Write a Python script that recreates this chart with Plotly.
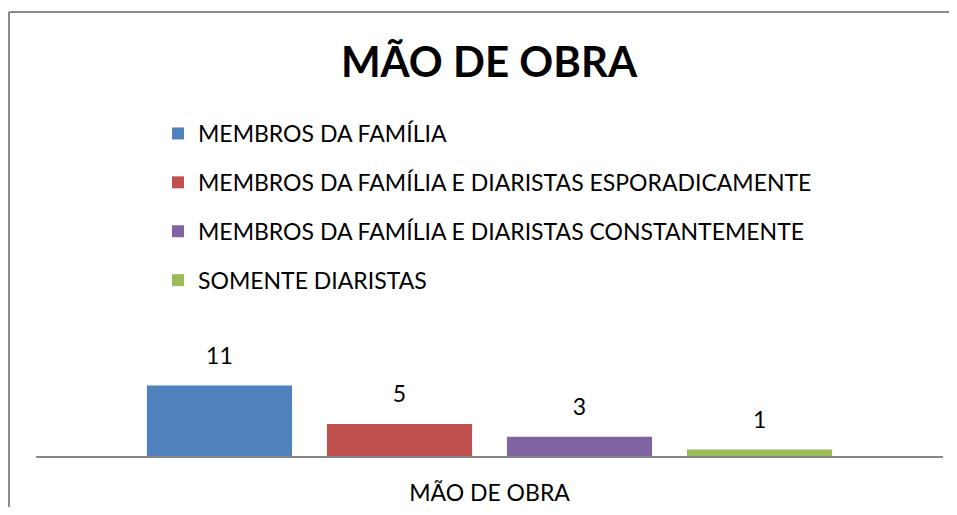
import plotly.graph_objects as go

categories = ["MÃO DE OBRA"]
series_names = [
    "MEMBROS DA FAMÍLIA",
    "MEMBROS DA FAMÍLIA E DIARISTAS ESPORADICAMENTE",
    "MEMBROS DA FAMÍLIA E DIARISTAS CONSTANTEMENTE",
    "SOMENTE DIARISTAS",
]
series_values = [11, 5, 3, 1]
series_colors = ["#4F81BD", "#C0504D", "#8064A2", "#9BBB59"]

FONT = "Lato"
# page body has an 8px margin on every side; keep the page inside the window
W, H = 941, 499
ML, MR, MT, MB = 28, 6, 371, 51

fig = go.Figure()
for i, (name, val, col) in enumerate(zip(series_names, series_values, series_colors)):
    fig.add_trace(go.Bar(
        x=categories, y=[val], name=name, legendgroup=f"g{i}",
        marker=dict(color=col, line=dict(width=0)),
        texttemplate="<span style='font-size:23px'>%{y}</span><br><span style='color:rgba(0,0,0,0)'>.</span>",
        textposition="outside", cliponaxis=False, constraintext="none",
        textfont=dict(family=FONT, size=12, color="#000000"),
    ))

pw = W - ML - MR
ph = H - MT - MB
def px_x(x):
    return (x - ML) / pw
def px_y(y):
    return (H - MB - y) / ph

border = dict(color="#898989", width=2)
fig.update_layout(
    width=W, height=H,
    margin=dict(l=ML, r=MR, t=MT, b=MB, autoexpand=False),
    paper_bgcolor="white", plot_bgcolor="white",
    barmode="group", bargap=0.206, bargroupgap=0.194,
    title=dict(text="<b>MÃO DE OBRA</b>", x=481 / W, xanchor="center",
               y=1 - 54 / H, yanchor="middle", yref="container",
               font=dict(family=FONT, size=42, color="#000000")),
    legend=dict(x=150 / W, xref="container", xanchor="left",
                y=1 - 104 / H, yref="container", yanchor="top",
                font=dict(family=FONT, size=23, color="#000000"),
                tracegroupgap=16, traceorder="grouped",
                bgcolor="rgba(0,0,0,0)"),
    xaxis=dict(type="category", showline=True, linecolor="#868686", linewidth=2,
               ticks="", showgrid=False, zeroline=False, ticklabelstandoff=15,
               tickfont=dict(family=FONT, size=23, color="#000000")),
    yaxis=dict(visible=False, range=[0, 12], showgrid=False, zeroline=False),
    showlegend=True,
    shapes=[
        dict(type="line", xref="paper", yref="paper",
             x0=px_x(1), x1=px_x(W + 20), y0=px_y(4), y1=px_y(4),
             line=border, layer="above"),
        dict(type="line", xref="paper", yref="paper",
             x0=px_x(1), x1=px_x(1), y0=px_y(4), y1=px_y(H + 20),
             line=border, layer="above"),
    ],
)

fig.write_html("out.html")
